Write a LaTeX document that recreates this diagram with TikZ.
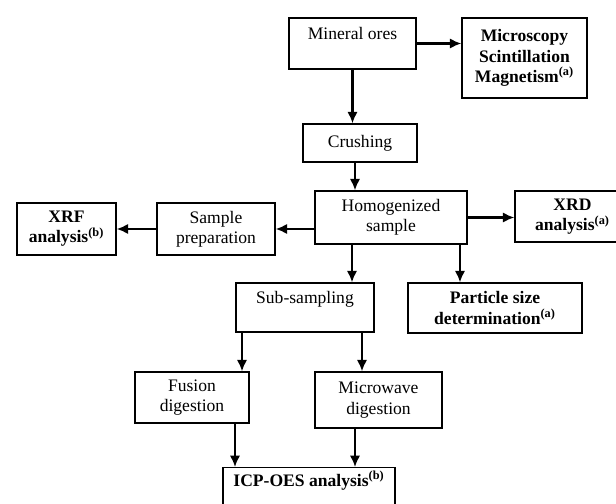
\documentclass[tikz,border=0pt]{standalone}
\usepackage{fontspec}
\setmainfont{Liberation Serif}
\usetikzlibrary{arrows.meta,calc}

\begin{document}
\begin{tikzpicture}[x=0.02cm,y=-0.02cm,>={Latex[length=2.3mm,width=2.1mm]},
  box/.style={draw,line width=0.8pt,align=center,inner sep=0pt,font=\fontsize{10}{11.5}\selectfont},
  bbox/.style={box,font=\fontsize{10}{11.5}\selectfont\bfseries},
  arr/.style={->,line width=1.2pt}]
  \useasboundingbox (0,0) rectangle (616,504);
  \clip (0,0) rectangle (616,504);
  \node[box,minimum width=2.54cm,minimum height=1.02cm] (ores) at (352.5,43.5) {Mineral ores\\ \mbox{}};
  \node[bbox,minimum width=2.5cm,minimum height=1.6cm] (micro) at (524.5,58) {Microscopy\\Scintillation\\Magnetism\textsuperscript{(a)}};
  \node[box,minimum width=2.28cm,minimum height=0.76cm] (crush) at (360,143) {Crushing};
  \node[box,minimum width=3.04cm,minimum height=1.06cm] (homog) at (391,217.5) {Homogenized\\sample};
  \node[bbox,minimum width=2.3cm,minimum height=1.02cm] (xrd) at (572.5,216.5) {XRD\\analysis\textsuperscript{(a)}};
  \node[box,minimum width=2.36cm,minimum height=1.04cm] (prep) at (216,229) {Sample\\preparation};
  \node[bbox,minimum width=1.98cm,minimum height=1.04cm] (xrf) at (66.5,229) {XRF\\analysis\textsuperscript{(b)}};
  \node[box,minimum width=2.76cm,minimum height=0.98cm] (sub) at (305,307.5) {Sub-sampling\\ \mbox{}};
  \node[bbox,minimum width=3.48cm,minimum height=1.0cm] (part) at (495,308) {Particle size\\determination\textsuperscript{(a)}};
  \node[box,minimum width=2.28cm,minimum height=1.02cm] (fusion) at (192,397.5) {Fusion\\digestion};
  \node[box,minimum width=2.54cm,minimum height=1.12cm] (wave) at (378.5,400) {Microwave\\digestion};
  \node[box,anchor=north,minimum width=3.44cm,minimum height=2.4cm] (icp) at (309,467) {};
  \node[bbox,draw=none,anchor=north,inner sep=2pt] (icptext) at (icp.north) {ICP-OES analysis\textsuperscript{(b)}};

  \coordinate (c1) at ([xshift=-0.1cm]crush.south);
  \coordinate (h1) at ([xshift=-0.78cm]homog.south);
  \coordinate (h2) at ([xshift=1.38cm]homog.south);
  \coordinate (s1) at ([xshift=-1.26cm]sub.south);
  \coordinate (s2) at ([xshift=1.14cm]sub.south);
  \coordinate (f1) at ([xshift=0.86cm]fusion.south);
  \coordinate (w1) at ([xshift=-0.47cm]wave.south);

  \draw[arr] (ores) -- (ores -| micro.west);
  \draw[arr] (ores) -- (ores |- crush.north);
  \draw[arr] (c1) -- (c1 |- homog.north);
  \draw[arr] (homog) -- (homog -| xrd.west);
  \draw[arr] (prep -| homog.west) -- (prep.east);
  \draw[arr] (prep.west) -- (xrf.east);
  \draw[arr] (h1) -- (h1 |- sub.north);
  \draw[arr] (h2) -- (h2 |- part.north);
  \draw[arr] (s1) -- (s1 |- fusion.north);
  \draw[arr] (s2) -- (s2 |- wave.north);
  \draw[arr] (f1) -- (f1 |- icp.north);
  \draw[arr] (w1) -- (w1 |- icp.north);
\end{tikzpicture}
\end{document}
